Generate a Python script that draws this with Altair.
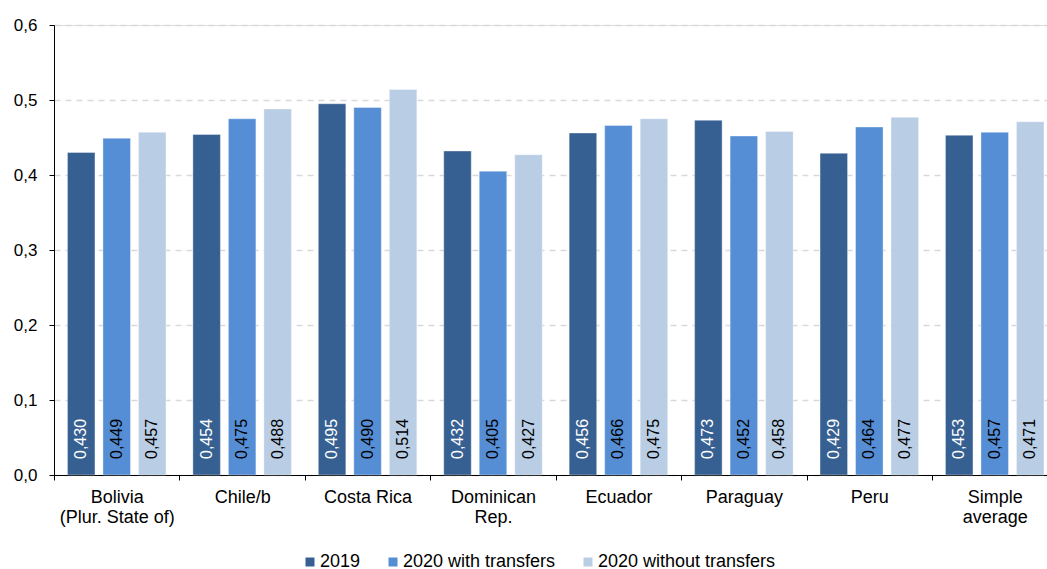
import altair as alt
import pandas as pd

categories = ["Bolivia\n(Plur. State of)", "Chile/b", "Costa Rica", "Dominican\nRep.",
              "Ecuador", "Paraguay", "Peru", "Simple\naverage"]
series = ["2019", "2020 with transfers", "2020 without transfers"]
v2019 = [0.430, 0.454, 0.495, 0.432, 0.456, 0.473, 0.429, 0.453]
v2020_with = [0.449, 0.475, 0.490, 0.405, 0.466, 0.452, 0.464, 0.457]
v2020_without = [0.457, 0.488, 0.514, 0.427, 0.475, 0.458, 0.477, 0.471]
colors = ["#376092", "#558ED5", "#B9CDE5"]
y_ticks = [0.0, 0.1, 0.2, 0.3, 0.4, 0.5, 0.6]

rows = []
for s, vals in zip(series, [v2019, v2020_with, v2020_without]):
    for c, v in zip(categories, vals):
        rows.append({"cat": c, "series": s, "value": v,
                     "label": f"{v:.3f}".replace(".", ",")})
df = pd.DataFrame(rows)

FONT = "Liberation Sans"
band = 125.43

x_enc = alt.X("cat:N", sort=categories, title=None,
              scale=alt.Scale(range=[0, band * len(categories)], paddingInner=0, paddingOuter=0),
              axis=alt.Axis(labelExpr="split(datum.label, '\\n')", labelAngle=0,
                            tickBand="extent", tickSize=5, tickColor="black",
                            domainColor="black", labelFontSize=18, labelColor="black",
                            labelPadding=8, labelLineHeight=20, labelBaseline="top",
                            labelFont=FONT, grid=False, labelLimit=300))
xo_enc = alt.XOffset("series:N", sort=series,
                     scale=alt.Scale(paddingInner=0.225, paddingOuter=0.379))
y_scale = alt.Scale(domain=[0, 0.6], nice=False)

bars = alt.Chart(df).mark_bar(stroke="white", strokeWidth=0.6, strokeOpacity=0.6).encode(
    x=x_enc, xOffset=xo_enc,
    y=alt.Y("value:Q", scale=y_scale, title=None,
            axis=alt.Axis(values=y_ticks,
                          labelExpr="replace(format(datum.value, '.1f'), '.', ',')",
                          grid=True, gridColor="#d9d9d9", gridDash=[6, 5], gridWidth=1.4,
                          domainColor="black", tickColor="black", tickSize=5,
                          labelFontSize=17, labelColor="black", labelPadding=12,
                          labelFont=FONT)),
    color=alt.Color("series:N", sort=series,
                    scale=alt.Scale(domain=series, range=colors),
                    legend=alt.Legend(title=None, orient="none", direction="horizontal",
                                      columns=3, legendX=247, legendY=528,
                                      symbolType="square", symbolSize=81,
                                      symbolStrokeWidth=0, labelFontSize=18,
                                      labelFont=FONT, labelColor="black", labelLimit=400,
                                      labelOffset=1, columnPadding=23, padding=0)),
)

texts = alt.Chart(df).mark_text(angle=270, align="left", baseline="middle",
                                dx=16, fontSize=16, font=FONT).encode(
    x=x_enc, xOffset=xo_enc,
    y=alt.datum(0, scale=y_scale),
    text="label:N",
    color=alt.condition(alt.datum.series == "2019", alt.value("white"), alt.value("black")),
)

chart = alt.layer(bars, texts).properties(
    width=993, height=450,
    autosize=alt.AutoSizeParams(type="none"),
    padding={"left": 54, "top": 25, "right": 0, "bottom": 94},
).configure_view(stroke=None).configure(font=FONT)

chart.save("out.html", embed_options={"renderer": "svg", "actions": False})
